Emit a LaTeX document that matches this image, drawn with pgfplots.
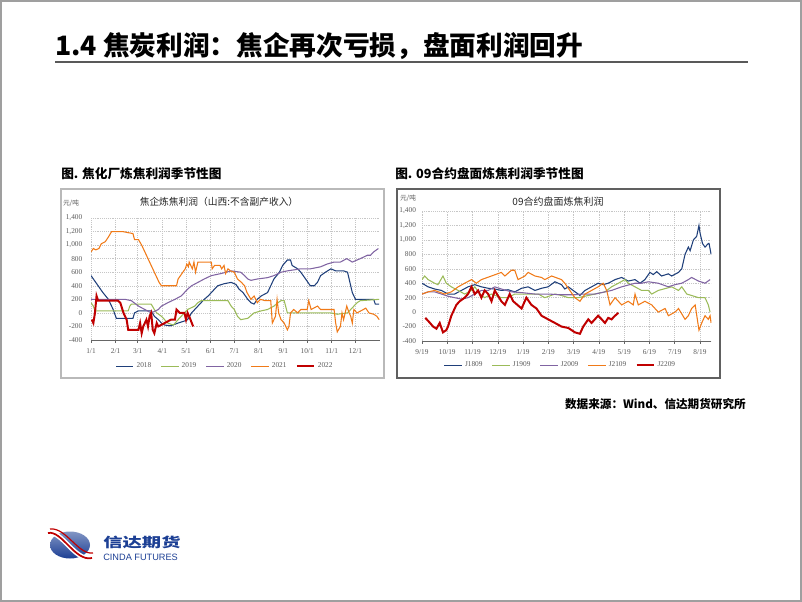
\documentclass[border=0pt]{standalone}
\usepackage{fontspec}
\setmainfont{Liberation Serif}
\newfontfamily\cjk{Noto Sans CJK SC}
\newfontfamily\lsans{Liberation Sans}
\usepackage{pgfplots}
\pgfplotsset{compat=1.18}
\definecolor{c18}{HTML}{1F3F7A}
\definecolor{c19}{HTML}{9BBB59}
\definecolor{c20}{HTML}{8064A2}
\definecolor{c21}{HTML}{F07A18}
\definecolor{c22}{HTML}{C00000}
\definecolor{tk}{HTML}{595959}
\definecolor{logob}{HTML}{1C3F94}
\pgfplotsset{chartstyle/.style={
  scale only axis,
  axis x line*=bottom, axis y line*=left,
  y axis line style={draw=none},
  x axis line style={draw=gray!80!black, line width=0.5pt},
  grid=major, major grid style={gray!45, densely dotted, line width=0.4pt},
  ytick style={draw=none},
  xtick style={draw=gray!80!black, line width=0.4pt},
  tick align=outside, major tick length=2pt,
  ymin=-400, ymax=1400, ytick={-400,-200,...,1400},
  /pgf/number format/.cd, 1000 sep={,}, assume math mode=true,
  /pgfplots/.cd,
  tick label style={font=\fontsize{5.5}{6}\selectfont, text=tk},
  yticklabel style={xshift=-1pt},
  xticklabel style={yshift=-1pt},
  legend style={draw=none, fill=none, font=\fontsize{5.5}{6}\selectfont, text=tk,
     legend columns=5, /tikz/every even column/.append style={column sep=5pt},
     anchor=center},
  legend image code/.code={\draw[##1] (0pt,0pt) -- (13pt,0pt);},
}}
\begin{document}
\begin{tikzpicture}[x=0.75pt,y=0.75pt]
\useasboundingbox (0,0) rectangle (802,-602);
\coordinate (LA) at (91,-340);
\coordinate (RA) at (422,-341);
\draw[gray!75, line width=1.1pt] (0.8,-0.8) rectangle (801.2,-601.2);
% title
\node[anchor=west, font=\cjk\bfseries\fontsize{20}{22}\selectfont, inner sep=0] at (55,-46) {1.4 焦炭利润：焦企再次亏损，盘面利润回升};
\draw[gray!70!black, line width=1.3pt] (55,-62) -- (748,-62);
% captions
\node[anchor=west, font=\cjk\bfseries\fontsize{9.5}{11}\selectfont, inner sep=0] at (61,-174) {图. 焦化厂炼焦利润季节性图};
\node[anchor=west, font=\cjk\bfseries\fontsize{9.5}{11}\selectfont, inner sep=0] at (395,-174) {图. 09合约盘面炼焦利润季节性图};
% boxes
\draw[gray!55, line width=0.9pt] (61,-189) rectangle (384,-378);
\draw[gray!75!black, line width=0.9pt] (397,-189) rectangle (720,-378);
% chart titles
\node[font=\cjk\fontsize{7.3}{8}\selectfont, text=black!85] at (219,-202) {焦企炼焦利润（山西:不含副产收入）};
\node[font=\cjk\fontsize{5}{6}\selectfont, text=tk] at (71,-203) {元/吨};
\node[font=\cjk\fontsize{7.5}{8}\selectfont, text=black!85] at (558,-202) {09合约盘面炼焦利润};
\node[font=\cjk\fontsize{5}{6}\selectfont, text=tk] at (408,-198) {元/吨};
% source
\node[anchor=east, font=\cjk\bfseries\fontsize{8.7}{10}\selectfont, inner sep=0] at (746,-404) {数据来源：Wind、信达期货研究所};
% logo
\shade[left color=logob!55, right color=logob, shading angle=0] (70,-545) ellipse [x radius=20, y radius=13.5];
\draw[white, line width=3.6pt] (48,-533) .. controls (62,-530) and (75,-562) .. (92,-558);
\draw[c22, line width=1.3pt] (48,-533) .. controls (62,-530) and (75,-562) .. (92,-558);
\draw[c22, line width=0.9pt] (50,-529) .. controls (66,-527) and (78,-555) .. (93,-553);
\node[anchor=west, inner sep=0, text=logob] at (103,-542) {\scalebox{1.45}[1]{\cjk\bfseries\fontsize{10}{11}\selectfont 信达期货}};
\node[anchor=west, inner sep=0, text=logob, font=\lsans\fontsize{6.9}{7}\selectfont] at (103,-557) {CINDA FUTURES};

% ---------------- left chart ----------------
\begin{axis}[chartstyle, at={(LA)}, anchor=south west,
  width=216.75pt, height=91.5pt,
  xmin=0, xmax=365,
  xtick={0,31,59,90,120,151,181,212,243,273,304,334},
  xticklabels={1/1,2/1,3/1,4/1,5/1,6/1,7/1,8/1,9/1,10/1,11/1,12/1},
  legend style={at={(0.465,-0.215)}},
]
\addplot[c18, line width=0.8pt] coordinates {(0,550)(9,400)(15,300)(22,200)(26,100)(28,50)(32,-80)(53,-80)(55,0)(60,30)(76,30)(80,-50)(85,-100)(89,-150)(93,-180)(101,-190)(110,-150)(118,-120)(122,-100)(127,0)(131,50)(135,100)(139,150)(143,200)(148,250)(152,300)(156,350)(160,400)(168,430)(177,450)(183,420)(187,350)(192,300)(198,200)(202,150)(206,130)(210,200)(215,250)(223,300)(227,400)(231,500)(238,600)(242,700)(248,780)(252,780)(254,700)(261,650)(265,600)(271,500)(277,400)(282,400)(286,450)(290,550)(296,600)(303,650)(309,620)(319,620)(324,600)(326,500)(328,400)(330,300)(334,200)(357,200)(359,130)(364,130)};
\addlegendentry{2018}
\addplot[c19, line width=0.8pt] coordinates {(0,150)(3,100)(5,30)(47,30)(49,100)(51,130)(76,130)(80,50)(83,0)(89,-50)(93,-100)(97,-150)(104,-180)(110,-100)(118,0)(122,50)(131,100)(135,150)(139,180)(173,180)(177,100)(181,50)(185,-50)(189,-100)(198,-80)(206,0)(215,30)(223,50)(231,100)(236,150)(240,180)(244,180)(248,0)(303,0)(311,-20)(324,0)(332,100)(336,150)(340,180)(364,200)};
\addlegendentry{2019}
\addplot[c20, line width=0.8pt] coordinates {(0,200)(43,200)(51,180)(60,100)(68,50)(76,0)(80,20)(85,50)(89,100)(97,150)(106,200)(114,250)(118,300)(122,350)(127,400)(135,450)(143,500)(152,550)(164,580)(177,620)(189,600)(194,550)(198,500)(202,480)(210,500)(223,520)(231,550)(240,600)(248,620)(265,650)(277,650)(290,680)(298,720)(307,750)(315,750)(323,800)(330,750)(340,800)(349,850)(353,850)(357,900)(363,950)};
\addlegendentry{2020}
\addplot[c21, line width=0.8pt] coordinates {(0,900)(3,950)(6,930)(10,950)(13,1020)(18,1050)(22,1120)(26,1200)(40,1200)(53,1170)(55,1080)(60,1080)(64,1000)(70,850)(76,700)(82,550)(86,450)(89,400)(108,400)(110,500)(113,550)(116,600)(119,650)(121,720)(123,680)(124,750)(126,700)(128,650)(130,750)(132,600)(134,700)(135,750)(152,750)(153,650)(156,700)(163,700)(165,650)(168,700)(170,580)(173,650)(176,620)(181,600)(185,500)(190,450)(194,400)(197,300)(202,200)(206,250)(210,150)(214,200)(220,180)(227,180)(229,-150)(231,-100)(233,-50)(235,200)(237,0)(240,-100)(244,-150)(248,-250)(250,-200)(252,0)(256,50)(261,0)(265,50)(273,50)(275,180)(278,50)(286,100)(290,50)(307,50)(309,-150)(311,-280)(315,-200)(317,0)(319,-100)(323,100)(326,0)(328,-50)(330,-150)(332,50)(336,0)(344,50)(347,70)(351,0)(357,-20)(361,-50)(364,-100)};
\addlegendentry{2021}
\addplot[c22, line width=1.5pt] coordinates {(1,-100)(3,-150)(5,0)(7,250)(9,180)(34,180)(37,150)(41,0)(45,-100)(47,-250)(60,-250)(62,-150)(64,-300)(66,-200)(68,-150)(70,-100)(72,-200)(74,-50)(76,0)(78,-250)(80,-300)(83,-150)(85,-200)(93,-150)(101,-100)(106,-100)(108,50)(112,0)(118,0)(120,-100)(122,0)(124,-50)(129,-200)};
\addlegendentry{2022}
\end{axis}

% ---------------- right chart ----------------
\begin{axis}[chartstyle, at={(RA)}, anchor=south west,
  width=217pt, height=97.5pt,
  xmin=0, xmax=11.45,
  xtick={0,1,...,11},
  xticklabels={9/19,10/19,11/19,12/19,1/19,2/19,3/19,4/19,5/19,6/19,7/19,8/19},
  yticklabel style={xshift=2pt},
  legend style={at={(0.48,-0.185)}},
]
\addplot[c18, line width=0.8pt] coordinates {(0,400)(0.24,350)(0.50,320)(0.77,300)(1.03,250)(1.29,250)(1.56,300)(1.82,350)(2.09,380)(2.35,350)(2.62,330)(2.88,320)(3.14,300)(3.41,310)(3.67,280)(3.94,330)(4.20,350)(4.47,300)(4.73,330)(4.99,350)(5.26,420)(5.52,380)(5.65,320)(5.79,350)(5.98,300)(6.18,250)(6.25,230)(6.45,300)(6.71,350)(6.97,400)(7.17,380)(7.37,400)(7.64,450)(7.90,480)(8.16,430)(8.43,450)(8.63,400)(8.82,450)(9.02,550)(9.15,520)(9.29,560)(9.48,500)(9.75,530)(9.88,500)(10.15,550)(10.28,600)(10.41,800)(10.54,900)(10.61,850)(10.74,1000)(10.87,1050)(10.96,1200)(11.00,1100)(11.10,950)(11.20,900)(11.33,950)(11.36,950)(11.44,800)};
\addlegendentry{J1809}
\addplot[c19, line width=0.8pt] coordinates {(0,450)(0.106,500)(0.24,450)(0.50,400)(0.63,380)(0.83,500)(0.96,400)(1.16,350)(1.43,300)(1.69,250)(1.96,300)(2.09,350)(2.29,250)(2.48,200)(2.75,250)(3.14,200)(3.41,200)(3.67,250)(4.20,250)(4.60,250)(4.86,200)(5.26,250)(5.52,230)(5.79,200)(6.18,200)(6.45,220)(6.84,250)(7.24,280)(7.50,350)(7.77,400)(8.03,450)(8.16,400)(8.43,350)(8.69,300)(8.96,300)(9.09,250)(9.35,300)(9.88,350)(10.15,300)(10.28,350)(10.48,250)(10.67,230)(10.94,200)(11.20,200)(11.33,100)(11.40,0)};
\addlegendentry{J1909}
\addplot[c20, line width=0.8pt] coordinates {(0,250)(0.24,280)(0.50,280)(0.77,250)(1.03,220)(1.29,200)(1.56,180)(1.82,200)(2.09,250)(2.35,300)(2.62,300)(2.88,350)(3.14,320)(3.54,280)(3.94,270)(4.47,250)(4.99,250)(5.52,240)(6.05,240)(6.31,250)(6.84,250)(7.24,280)(7.50,300)(7.90,350)(8.43,400)(8.69,400)(8.96,420)(9.35,400)(9.75,350)(10.01,380)(10.28,400)(10.54,450)(10.67,480)(10.94,430)(11.20,400)(11.40,450)};
\addlegendentry{J2009}
\addplot[c21, line width=0.8pt] coordinates {(0,250)(0.24,280)(0.50,300)(0.90,250)(1.16,280)(1.43,350)(1.69,400)(1.96,450)(2.15,400)(2.35,450)(2.75,500)(3.14,550)(3.28,500)(3.54,580)(3.67,580)(3.80,450)(4.07,500)(4.20,550)(4.47,500)(4.73,480)(4.86,450)(5.13,500)(5.52,450)(5.65,400)(5.85,300)(6.05,200)(6.25,150)(6.45,250)(6.71,300)(6.97,350)(7.17,400)(7.31,300)(7.44,100)(7.64,200)(7.90,100)(8.16,150)(8.36,100)(8.43,250)(8.56,100)(8.82,150)(9.09,100)(9.35,0)(9.62,50)(9.75,-50)(10.01,0)(10.15,50)(10.41,-100)(10.54,-50)(10.67,50)(10.81,100)(10.96,-250)(11.07,-150)(11.20,-50)(11.33,-100)(11.40,-50)(11.44,-150)};
\addlegendentry{J2109}
\addplot[c22, line width=1.5pt] coordinates {(0.13,-80)(0.24,-120)(0.44,-200)(0.57,-230)(0.70,-150)(0.83,-280)(0.96,-250)(1.03,-200)(1.16,-50)(1.36,100)(1.49,150)(1.69,200)(1.82,250)(1.96,350)(2.09,250)(2.22,300)(2.35,200)(2.48,300)(2.62,250)(2.75,150)(2.88,300)(3.14,150)(3.28,100)(3.47,250)(3.61,150)(3.94,50)(4.13,200)(4.33,100)(4.53,50)(4.73,-50)(4.99,-100)(5.26,-150)(5.52,-200)(5.79,-220)(6.05,-280)(6.25,-300)(6.38,-200)(6.58,-100)(6.71,-150)(6.97,-50)(7.11,-100)(7.24,-150)(7.37,-80)(7.50,-100)(7.64,-50)(7.77,-10)};
\addlegendentry{J2209}
\end{axis}
\end{tikzpicture}
\end{document}
